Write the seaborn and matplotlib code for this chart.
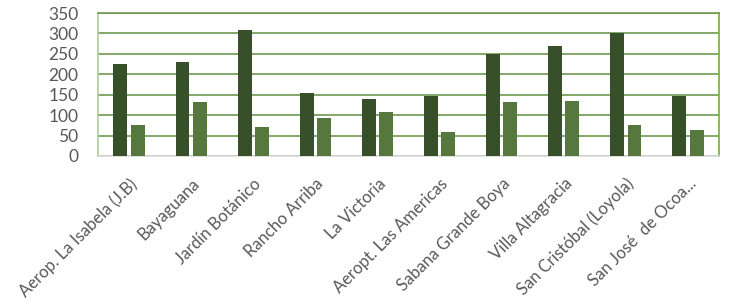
import matplotlib
matplotlib.use("Agg")
import matplotlib.pyplot as plt
import seaborn as sns
import pandas as pd

categories = ["Aerop. La Isabela (J.B)", "Bayaguana", "Jardín Botánico", "Rancho Arriba",
              "La Victoria", "Aeropt. Las Americas", "Sabana Grande Boya", "Villa Altagracia",
              "San Cristóbal (Loyola)", "San José  de Ocoa..."]
series_a = [225, 230, 308, 153, 140, 148, 250, 270, 300, 148]
series_b = [76, 133, 71, 92, 108, 59, 133, 135, 76, 64]
series_names = ["Serie 1", "Serie 2"]
y_ticks = [0, 50, 100, 150, 200, 250, 300, 350]

df = pd.DataFrame({
    "cat": categories * 2,
    "val": series_a + series_b,
    "serie": [series_names[0]] * len(categories) + [series_names[1]] * len(categories),
})

sns.set_theme(style="white")
plt.rcParams['font.family'] = ['Lato', 'DejaVu Sans']

fig = plt.figure(figsize=(7.31, 3.0), dpi=100)
ax = fig.add_axes([98/731, 1-156/300, (719-98)/731, (156-13)/300])

sns.barplot(data=df, x="cat", y="val", hue="serie", order=categories,
            palette=["#375623", "#548235"], width=0.56, gap=0.2,
            linewidth=0, ax=ax, legend=False, zorder=3)

ax.set_ylim(0, 350)
ax.set_xlim(-0.5, len(categories) - 0.5)
ax.set_yticks(y_ticks)
ax.set_yticklabels([str(t) for t in y_ticks], fontsize=12.5, color="#595959")
ax.set_xticks(range(len(categories)))
ax.set_xticklabels(categories, rotation=45, ha="right", va="top",
                   rotation_mode="anchor", fontsize=12, color="#595959")
ax.tick_params(axis="y", length=0, pad=14)
ax.tick_params(axis="x", length=0, pad=14)
ax.set_xlabel("")
ax.set_ylabel("")
ax.yaxis.grid(True, color="#6E9A4E", linewidth=1.2, zorder=0)
ax.set_axisbelow(True)
ax.spines["top"].set_color("#6E9A4E")
ax.spines["right"].set_color("#70AD47")
ax.spines["left"].set_color("#A9D08E")
ax.spines["bottom"].set_color("#D9D9D9")
for s in ax.spines.values():
    s.set_linewidth(1.2)

fig.savefig("out.png", dpi=100)
